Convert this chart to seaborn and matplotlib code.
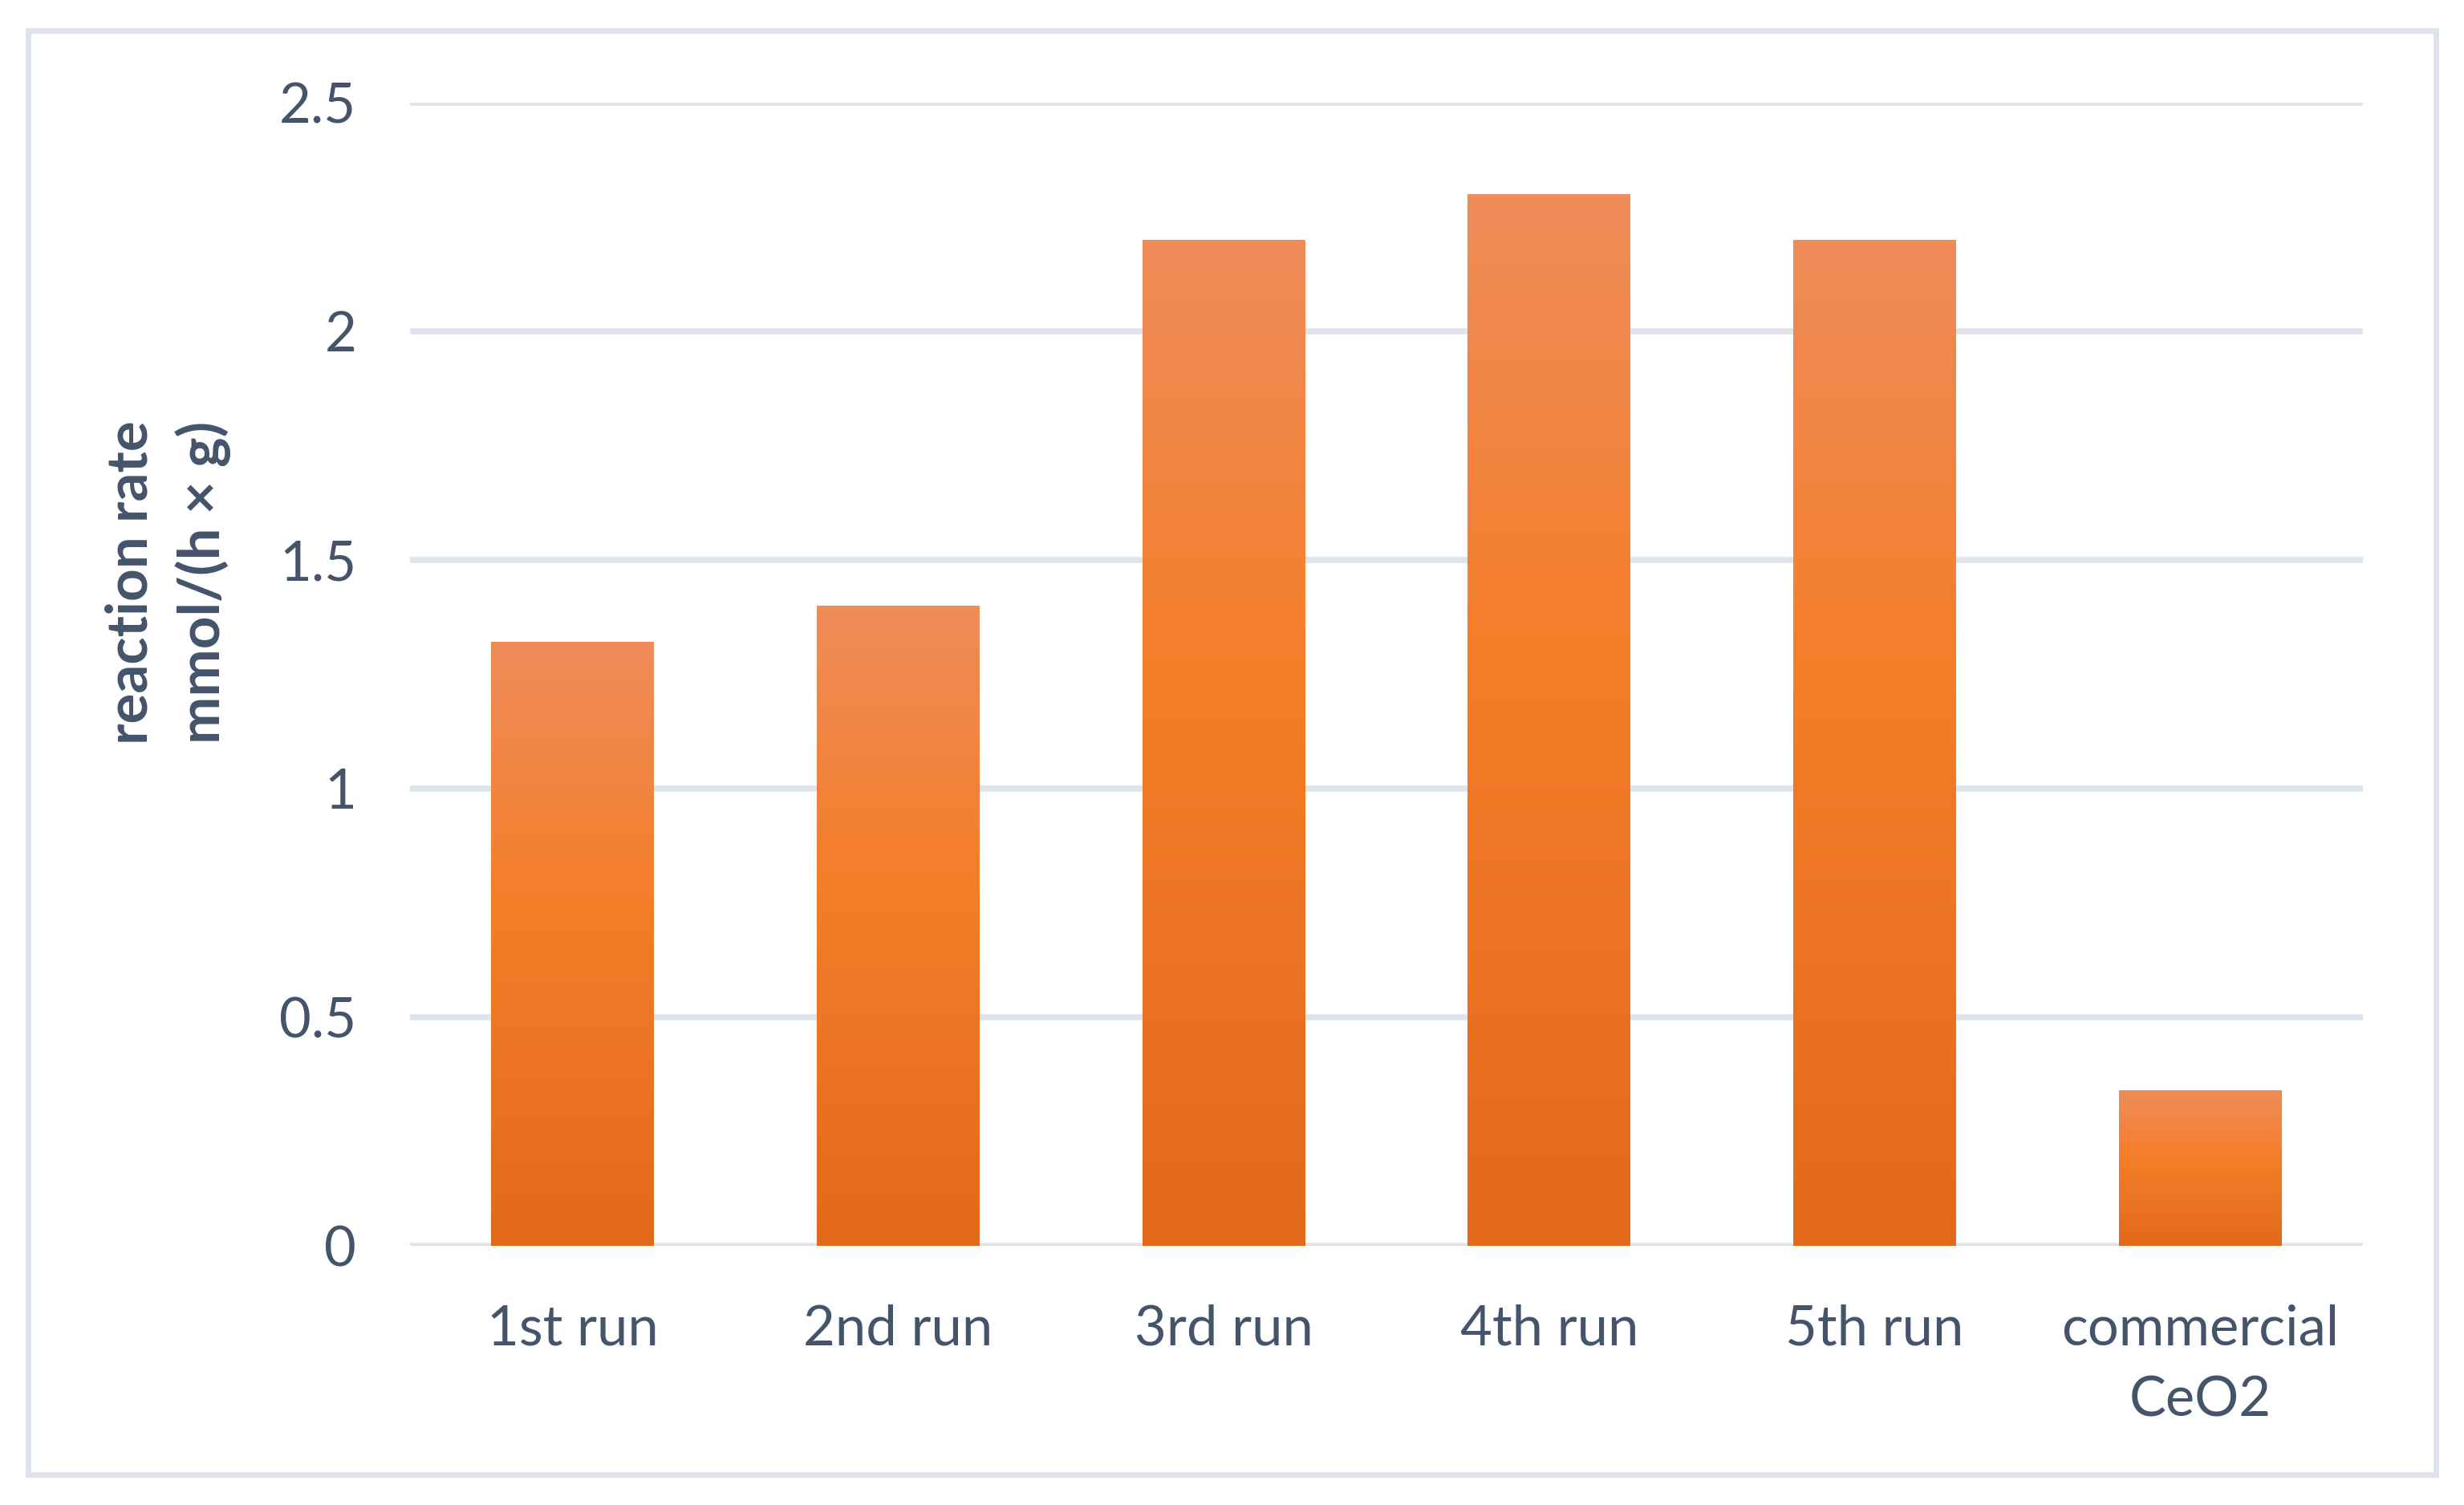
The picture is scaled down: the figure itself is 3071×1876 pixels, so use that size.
import numpy as np
import pandas as pd
import seaborn as sns
import matplotlib
matplotlib.use("Agg")
import matplotlib.pyplot as plt
from matplotlib.colors import LinearSegmentedColormap
from matplotlib.patches import Rectangle

# ---- data ----
categories = ["1st run", "2nd run", "3rd run", "4th run", "5th run", "commercial\nCeO2"]
rates = [1.32, 1.40, 2.20, 2.30, 2.20, 0.34]
y_ticks = [0, 0.5, 1, 1.5, 2, 2.5]
y_tick_labels = ["0", "0.5", "1", "1.5", "2", "2.5"]
y_label = "reaction rate\nmmol/(h × g)"

# ---- style ----
sns.set_theme(style="white")
plt.rcParams['font.family'] = ['Lato', 'DejaVu Sans']
TEXT = "#44546A"
GRID = "#DFE3EA"

W, H, DPI = 3071, 1876, 300
fig = plt.figure(figsize=(W / DPI, H / DPI), dpi=DPI, facecolor="white")
ax = fig.add_axes([511 / W, 1 - 1553 / H, (2945 - 511) / W, (1553 - 128) / H])

df = pd.DataFrame({"category": categories, "rate": rates})
sns.barplot(data=df, x="category", y="rate", ax=ax, width=0.5,
            color="#F47D2A", saturation=1, zorder=3, errorbar=None)

# gradient fill for each bar (light top -> bright middle -> darker bottom)
cmap = LinearSegmentedColormap.from_list(
    "bar", [(0.0, "#EF8C5A"), (0.42, "#F57E2A"), (1.0, "#E2691A")])
grad = np.linspace(0, 1, 256).reshape(-1, 1)
for p in list(ax.patches):
    x0, y0 = p.get_x(), p.get_y()
    w, h = p.get_width(), p.get_height()
    p.set_facecolor("none")
    p.set_edgecolor("none")
    ax.imshow(grad, extent=[x0, x0 + w, y0, y0 + h], origin="upper",
              aspect="auto", cmap=cmap, zorder=3, interpolation="bilinear")

ax.set_xlim(-0.5, len(categories) - 0.5)
ax.set_ylim(0, 2.5)
ax.set_yticks(y_ticks)
ax.set_yticklabels(y_tick_labels)
ax.set_xlabel("")
ax.set_ylabel("")

ax.yaxis.grid(True, color=GRID, linewidth=1.8, zorder=0)
ax.xaxis.grid(False)
ax.set_axisbelow(True)
for s in ax.spines.values():
    s.set_visible(False)

ax.tick_params(axis="y", length=0, pad=16, labelsize=16.5, labelcolor=TEXT)
ax.tick_params(axis="x", length=0, pad=17.5, labelsize=16.5, labelcolor=TEXT)
for t in ax.get_xticklabels():
    t.set_linespacing(1.5)

fig.text(209 / W, 1 - 726 / H, y_label, rotation=90, ha="center", va="center",
         multialignment="center", fontsize=17, fontweight="bold", color=TEXT,
         linespacing=1.4)

# outer chart border
lw_px = 7
fig.add_artist(Rectangle((34.5 / W, 1 - 1837.5 / H), (3036 - 34.5) / W, (1837.5 - 38) / H,
                         transform=fig.transFigure, fill=False, edgecolor="#DEE2EA",
                         linewidth=lw_px * 72 / DPI))

fig.savefig("out.png", dpi=DPI, facecolor="white")
